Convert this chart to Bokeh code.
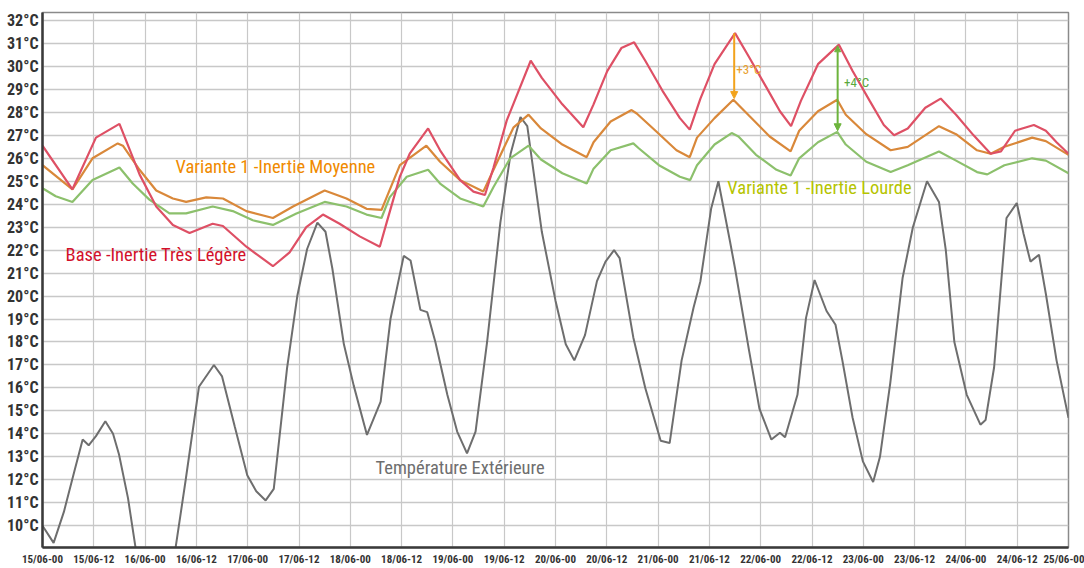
from bokeh.plotting import figure
from bokeh.models import Range1d, FixedTicker, Label, Arrow, NormalHead
from bokeh.embed import file_html
from bokeh.resources import INLINE

# ---------------- data (hours from 15/06-00) ----------------
hours_ext = [0, 2.6, 5, 7.5, 9.4, 10.8, 12.5, 14.7, 16.5, 17.9, 20, 21.8, 26, 31.1, 33.5, 36.6,
             40.1, 42, 45, 47.9, 50, 52.2, 54.1, 57.2, 59.6, 61.9, 64.3, 66.2, 67.8, 70.5,
             72.8, 75.9, 79.1, 81.4, 84.5, 86.1, 88.4, 90, 91.9, 94.7, 97, 99.3, 101.3, 104,
             107.1, 109.5, 111.8, 113.4, 116.8, 120, 122.4, 124.4, 126.9, 129.7, 131.7, 133.7,
             135, 138.2, 141, 144.6, 146.7, 149.5, 152.3, 153.9, 156.4, 158.1, 160.8, 162,
             165.3, 167.7, 170.5, 172.5, 173.7, 176.6, 178.6, 180.6, 183.4, 185.5, 187.1,
             189.5, 191.9, 194.3, 195.9, 198.3, 201.2, 203.6, 206.9, 209.7, 211.3, 213.3,
             216.2, 219.4, 220.6, 222.6, 225.5, 227.9, 229.5, 231.1, 233.1, 234.7, 237.2, 240]
temp_ext = [10.0, 9.25, 10.6, 12.4, 13.75, 13.5, 13.9, 14.55, 14.0, 13.1, 11.2, 9.0, 7.2, 9.0, 12.0, 16.05,
            17.0, 16.5, 14.3, 12.2, 11.5, 11.1, 11.6, 16.85, 20.0, 22.05, 23.2, 22.8, 21.2, 17.9,
            16.1, 13.95, 15.4, 19.0, 21.75, 21.55, 19.4, 19.3, 18.0, 15.7, 14.1, 13.15, 14.1, 18.0,
            23.2, 26.2, 27.8, 27.4, 22.8, 19.8, 17.9, 17.2, 18.3, 20.65, 21.5, 22.0,
            21.65, 18.2, 16.0, 13.7, 13.6, 17.2, 19.5, 20.65, 23.8, 25.0, 22.4, 21.2,
            17.6, 15.1, 13.75, 14.05, 13.85, 15.7, 19.05, 20.7, 19.35, 18.75, 17.2,
            14.7, 12.8, 11.9, 13.0, 16.2, 20.8, 23.0, 25.0, 24.1, 22.0, 18.0,
            15.7, 14.4, 14.6, 16.9, 23.4, 24.05, 22.7, 21.5, 21.8, 20.1, 17.2, 14.7]

hours_base = [0, 7, 12.5, 18, 22.7, 26.6, 30.5, 34.4, 39.8, 42.2, 47.7, 53.9, 57.8, 61.7, 65.6,
              69.5, 74.2, 78.9, 80.5, 83.6, 85.9, 90.2, 93, 97.7, 100.8, 103.5, 105.5, 108.6,
              114.2, 116.8, 121.6, 126.5, 128.9, 132.1, 135.4, 138.4, 141, 145, 149.1, 151.4,
              153.9, 157.2, 162, 165.3, 169.3, 172.5, 175.1, 177.4, 181.4, 186.3, 189.5, 193.5,
              196.8, 199.2, 202.4, 206.5, 210.1, 213.7, 217.8, 221.8, 224.2, 227.5, 231.9,
              234.7, 237.2, 240]
temp_base = [26.55, 24.65, 26.9, 27.5, 25.3, 23.9, 23.1, 22.75, 23.15, 23.05, 22.15, 21.3, 21.9, 23.0, 23.55,
             23.15, 22.6, 22.15, 23.2, 25.2, 26.2, 27.3, 26.35, 25.05, 24.55, 24.4, 25.6, 27.65,
             30.25, 29.5, 28.35, 27.35, 28.35, 29.8, 30.8, 31.05, 30.25, 28.95, 27.75, 27.25,
             28.6, 30.1, 31.45, 30.4, 29.1, 28.05, 27.4, 28.5, 30.1, 30.95, 29.8, 28.5,
             27.45, 27.0, 27.3, 28.2, 28.6, 27.9, 27.0, 26.2, 26.3, 27.2, 27.45,
             27.2, 26.7, 26.2]

hours_moy = [0, 7, 11.7, 17.6, 18.8, 22.7, 26.6, 30.5, 33.6, 38.3, 42.2, 47.7, 53.9, 58.6, 66,
             71.1, 75.8, 79.3, 80.5, 83.6, 89.8, 93, 97.7, 103.1, 105.5, 110.2, 113.7, 116.6,
             121.6, 127.3, 128.9, 132.9, 137.8, 139, 143.4, 148.3, 151.4, 153.1, 157.2, 161.6,
             165.3, 170.1, 175, 177, 181.4, 185.9, 187.9, 192.7, 198.4, 202.4, 209.7, 213.7,
             218.6, 221.8, 225, 231.5, 234.7, 240]
temp_moy = [25.7, 24.65, 26.0, 26.65, 26.55, 25.5, 24.6, 24.25, 24.1, 24.3, 24.25, 23.7, 23.4, 23.9, 24.6,
            24.25, 23.8, 23.75, 24.3, 25.7, 26.55, 25.85, 25.05, 24.55, 25.5, 27.35, 27.9, 27.3,
            26.6, 26.05, 26.7, 27.6, 28.1, 27.95, 27.2, 26.35, 26.05, 26.9, 27.75, 28.55,
            27.85, 26.95, 26.3, 27.2, 28.05, 28.55, 27.9, 27.05, 26.35, 26.5, 27.4, 27.05,
            26.35, 26.2, 26.5, 26.9, 26.75, 26.15]

hours_lourde = [0, 3.1, 7, 11.7, 18, 21.1, 25, 29.7, 33.6, 39.8, 44.5, 49.2, 53.9, 59.4, 66,
                71.1, 75.8, 79.3, 81.2, 85.2, 90.2, 93, 97.7, 103.1, 105.5, 109.4, 113.7, 116.6,
                121.6, 127.3, 128.9, 132.9, 138.2, 139.4, 144.2, 149.1, 151.5, 153.1, 157.2,
                161.2, 162.8, 166.9, 171.7, 175, 177, 181.4, 185.9, 187.9, 192.7, 198.4, 202.4,
                209.7, 213.7, 218.6, 221, 225, 231.5, 234.7, 240]
temp_lourde = [24.7, 24.35, 24.1, 25.05, 25.6, 24.9, 24.2, 23.6, 23.6, 23.9, 23.7, 23.3, 23.1, 23.6, 24.1,
               23.9, 23.55, 23.4, 24.3, 25.2, 25.5, 24.9, 24.25, 23.9, 24.75, 26.0, 26.55, 25.95,
               25.35, 24.9, 25.55, 26.35, 26.65, 26.45, 25.7, 25.2, 25.05, 25.7, 26.6,
               27.1, 26.95, 26.15, 25.5, 25.25, 26.0, 26.7, 27.15, 26.6, 25.85, 25.4, 25.7,
               26.3, 25.9, 25.4, 25.3, 25.7, 26.0, 25.9, 25.35]

y_ticks = list(range(10, 33))
y_labels = [f"{t}°C" for t in y_ticks]
x_ticks = list(range(0, 241, 12))
x_labels = ["15/06-00", "15/06-12", "16/06-00", "16/06-12", "17/06-00", "17/06-12",
            "18/06-00", "18/06-12", "19/06-00", "19/06-12", "20/06-00", "20/06-12",
            "21/06-00", "21/06-12", "22/06-00", "22/06-12", "23/06-00", "23/06-12",
            "24/06-00", "24/06-12", "25/06-00"]

series_names = ["Variante 1 -Inertie Moyenne", "Base -Inertie Très Légère",
                "Variante 1 -Inertie Lourde", "Température Extérieure"]
delta_texts = ["+3°C", "+4°C"]

# ---------------- figure ----------------
NARROW = "'Liberation Sans Narrow', 'Roboto Condensed', 'DejaVu Sans Condensed', sans-serif"

p = figure(width=1084, height=568, output_backend="svg", toolbar_location=None,
           x_range=Range1d(0, 240), y_range=Range1d(9.05, 32.35),
           min_border_left=42, min_border_right=16, min_border_top=12, min_border_bottom=18)
p.background_fill_color = "white"
p.border_fill_color = "white"
p.outline_line_color = "#8a8a8a"
p.outline_line_width = 1.5

p.yaxis.ticker = FixedTicker(ticks=y_ticks)
p.yaxis.major_label_overrides = dict(zip(y_ticks, y_labels))
p.xaxis.ticker = FixedTicker(ticks=x_ticks)
p.xaxis.major_label_overrides = dict(zip(x_ticks, x_labels))

for ax in (p.xaxis, p.yaxis):
    ax.axis_line_color = "#3a3a3a"
    ax.axis_line_width = 2.5
    ax.major_tick_line_color = None
    ax.minor_tick_line_color = None
    ax.major_tick_out = 0
    ax.major_tick_in = 0
    ax.major_label_text_font = NARROW
    ax.major_label_text_font_style = "bold"
    ax.major_label_text_color = "#333333"
p.yaxis.major_label_text_font_size = "16px"
p.yaxis.major_label_standoff = 4
p.xaxis.major_label_text_font_size = "11px"
p.xaxis.major_label_standoff = 5

p.xgrid.grid_line_color = "#c8c8c8"
p.xgrid.grid_line_width = 1.2
p.ygrid.grid_line_color = "#c8c8c8"
p.ygrid.grid_line_width = 1.6

# ---------------- lines ----------------
p.line(hours_ext, temp_ext, line_color="#6e6e6e", line_width=2)
p.line(hours_lourde, temp_lourde, line_color="#8cc06c", line_width=2.2)
p.line(hours_moy, temp_moy, line_color="#d9883a", line_width=2.2)
p.line(hours_base, temp_base, line_color="#de5065", line_width=2.2)

# ---------------- arrows ----------------
p.add_layout(Arrow(x_start=hours_base[42] - 0.2, y_start=temp_base[42], x_end=hours_base[42] - 0.2,
                   y_end=temp_moy[39] + 0.05, line_color="#f2a31c", line_width=2,
                   end=NormalHead(size=7, fill_color="#f2a31c", line_color="#f2a31c")))
p.add_layout(Arrow(x_start=hours_base[49] - 0.3, y_start=temp_base[49] - 0.05, x_end=hours_base[49] - 0.3,
                   y_end=temp_lourde[46] + 0.05, line_color="#6cb43c", line_width=2,
                   start=NormalHead(size=6, fill_color="#6cb43c", line_color="#6cb43c"),
                   end=NormalHead(size=7, fill_color="#6cb43c", line_color="#6cb43c")))

p.add_layout(Label(x=162.3, y=29.85, text=delta_texts[0], text_font=NARROW, text_font_size="13px",
                   text_color="#e8a030", text_baseline="middle"))
p.add_layout(Label(x=187.5, y=29.3, text=delta_texts[1], text_font=NARROW, text_font_size="13px",
                   text_color="#5aa83a", text_baseline="middle"))

# ---------------- series labels ----------------
label_style = dict(text_font=NARROW, text_font_size="18.5px", text_baseline="middle")
p.add_layout(Label(x=31.1, y=25.63, text=series_names[0], text_color="#f08a00", **label_style))
p.add_layout(Label(x=5.4, y=21.8, text=series_names[1], text_color="#d2102a", **label_style))
p.add_layout(Label(x=160.2, y=24.72, text=series_names[2], text_color="#b5c400", **label_style))
p.add_layout(Label(x=77.9, y=12.5, text=series_names[3], text_color="#6e6e6e", **label_style))

open("out.html", "w").write(file_html(p, INLINE))
